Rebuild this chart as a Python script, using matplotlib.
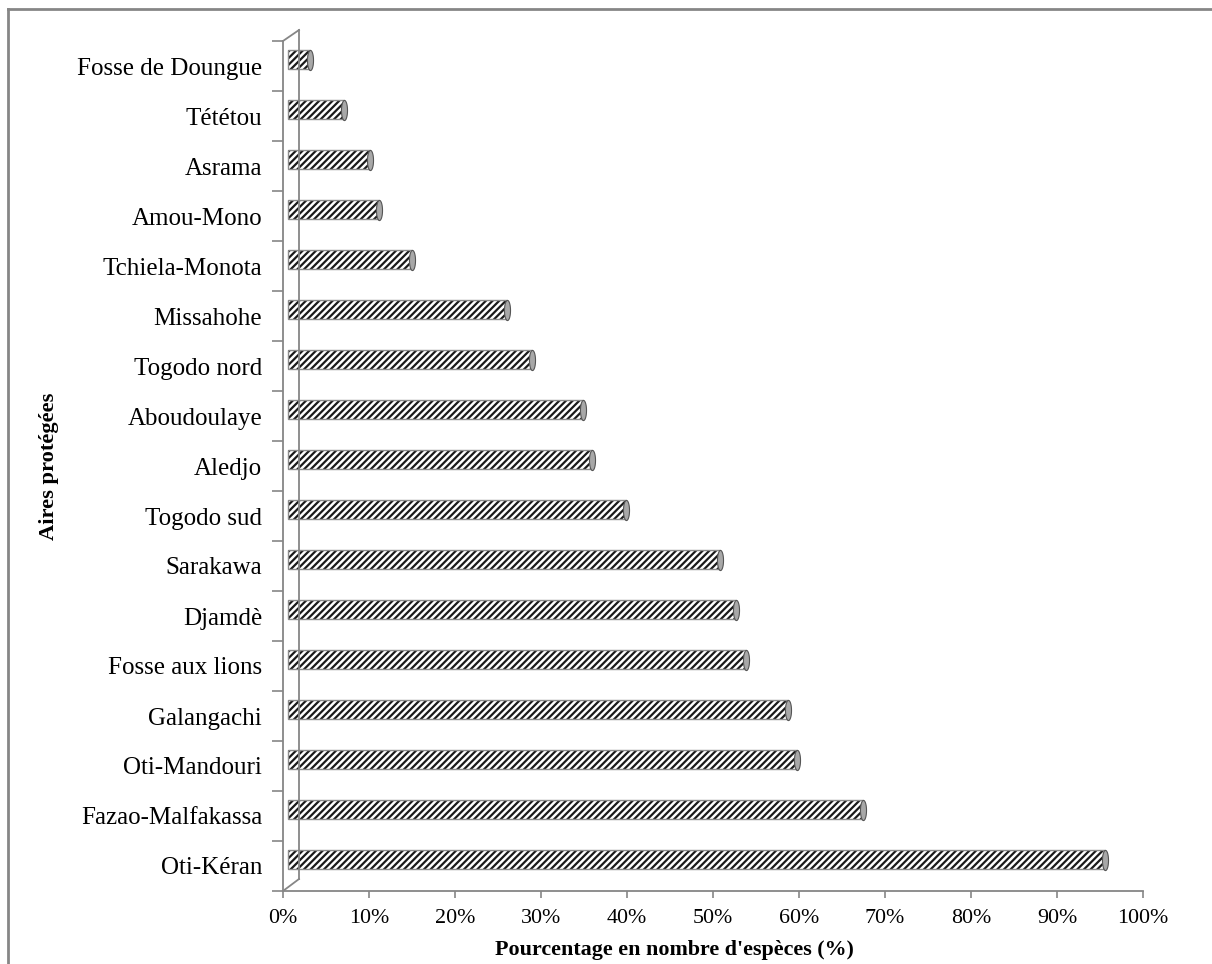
import matplotlib
matplotlib.use("Agg")
import matplotlib.pyplot as plt
import matplotlib.transforms as mtransforms
from matplotlib.lines import Line2D
from matplotlib.path import Path
from matplotlib.ticker import FuncFormatter, FixedLocator
import numpy as np

# data (top to bottom)
sites = ["Fosse de Doungue", "Tététou", "Asrama", "Amou-Mono", "Tchiela-Monota",
         "Missahohe", "Togodo nord", "Aboudoulaye", "Aledjo", "Togodo sud",
         "Sarakawa", "Djamdè", "Fosse aux lions", "Galangachi", "Oti-Mandouri",
         "Fazao-Malfakassa", "Oti-Kéran"]
pct_species = [2.6, 6.6, 9.6, 10.6, 14.5, 25.5, 28.4, 34.4, 35.4, 39.4,
               50.3, 52.2, 53.3, 58.2, 59.3, 66.9, 95.0]
x_ticks = [0, 10, 20, 30, 40, 50, 60, 70, 80, 90, 100]

plt.rcParams["font.family"] = ["Liberation Serif", "DejaVu Serif"]
plt.rcParams["hatch.linewidth"] = 1.6

GRID = "#868686"
W, H = 1212, 964
fig = plt.figure(figsize=(W / 100, H / 100), dpi=100)

# plot area in pixels: x 283..1143, y 41..891 (from top)
left, right, top, bottom = 283, 1143, 41, 891
ax = fig.add_axes([left / W, 1 - bottom / H, (right - left) / W, (bottom - top) / H])

y = np.arange(len(sites))
# 3D depth: bars sit slightly right/up of the front axis
depth = mtransforms.ScaledTranslation(4.5 / 100, 6.5 / 100, fig.dpi_scale_trans)
tr = ax.transData + depth

ax.barh(y, pct_species, height=0.39, color="white", edgecolor="#1a1a1a",
        hatch="/////", linewidth=0, transform=tr, zorder=3)
ax.barh(y, pct_species, height=0.39, fill=False, edgecolor="#8c8c8c",
        linewidth=1.0, transform=tr, zorder=4)

# cylinder end caps
t = np.linspace(0, 2 * np.pi, 60)
cap = Path(np.column_stack([0.3 * np.cos(t), np.sin(t)]), closed=True)
ax.scatter(pct_species, y, marker=cap, s=14.5 ** 2, facecolor="#a8a8a8",
           edgecolor="#555555", linewidth=0.8, transform=tr, zorder=5)

ax.set_xlim(0, 100)
ax.set_ylim(len(sites) - 0.5, -0.5)

for s in ["top", "right"]:
    ax.spines[s].set_visible(False)
for s in ["left", "bottom"]:
    ax.spines[s].set_color(GRID)
    ax.spines[s].set_linewidth(1.3)

ax.set_xticks(x_ticks)
ax.xaxis.set_major_formatter(FuncFormatter(lambda v, p: f"{v:.0f}%"))
ax.tick_params(axis="x", length=5, width=1.2, color=GRID, labelsize=15.8, pad=8)

ax.yaxis.set_major_locator(FixedLocator(np.arange(-0.5, len(sites), 1.0)))
ax.yaxis.set_major_formatter(FuncFormatter(lambda v, p: ""))
ax.yaxis.set_minor_locator(FixedLocator(y))
ax.set_yticklabels(sites, minor=True)
ax.tick_params(axis="y", which="major", length=8, width=1.2, color=GRID)
ax.tick_params(axis="y", which="minor", length=0, labelsize=18, pad=15)

ax.set_xlabel("Pourcentage en nombre d'espèces (%)", fontsize=15.8, fontweight="bold")
ax.xaxis.set_label_coords((674.5 - left) / (right - left), -(940 - bottom) / (bottom - top))
ax.set_ylabel("Aires protégées", fontsize=16.2, fontweight="bold")
ax.yaxis.set_label_coords((59 - left) / (right - left), 0.5)

# back wall of the 3D frame
def px(xp, yp):
    return (xp / W, 1 - yp / H)

wall = [((283, 41), (299, 30)), ((299, 30), (299, 879)), ((299, 879), (283, 891))]
for a, b in wall:
    (x0, y0), (x1, y1) = px(*a), px(*b)
    fig.add_artist(Line2D([x0, x1], [y0, y1], color=GRID, lw=1.3, transform=fig.transFigure))

# outer border (top and left)
fig.add_artist(Line2D([px(8, 9)[0], 1], [px(8, 9)[1]] * 2, color=GRID, lw=2, transform=fig.transFigure))
fig.add_artist(Line2D([px(8, 9)[0]] * 2, [px(8, 9)[1], 0], color=GRID, lw=2, transform=fig.transFigure))

fig.savefig("out.png", dpi=100)
